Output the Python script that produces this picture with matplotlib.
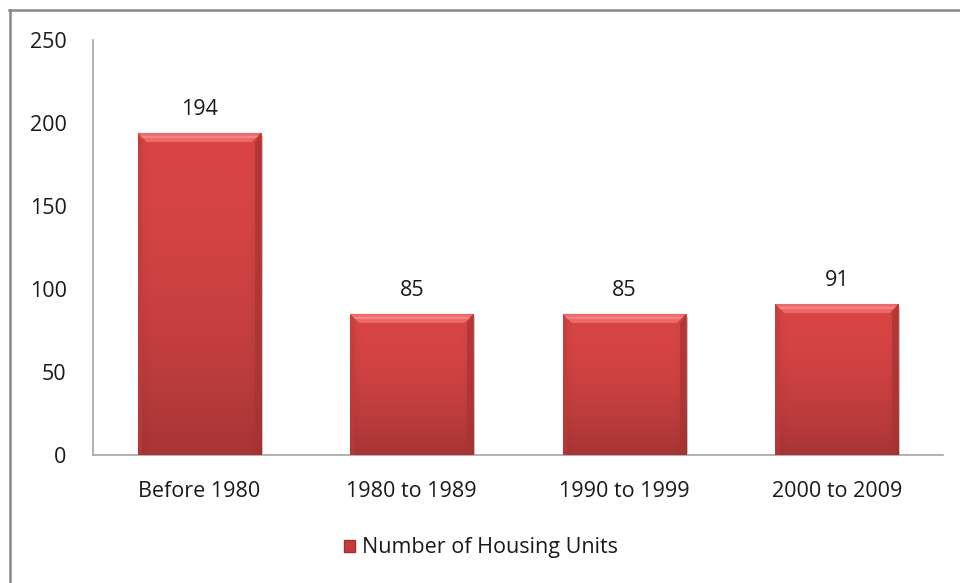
import numpy as np
import matplotlib
matplotlib.use("Agg")
import matplotlib.pyplot as plt
from matplotlib.patches import Polygon, Patch
from matplotlib.lines import Line2D
from matplotlib.colors import to_rgb

categories = ['Before 1980', '1980 to 1989', '1990 to 1999', '2000 to 2009']
units = [194, 85, 85, 91]
series_name = 'Number of Housing Units'

plt.rcParams['font.family'] = ['Open Sans', 'DejaVu Sans']

fig = plt.figure(figsize=(9.6, 5.83), dpi=100)
ax = fig.add_axes([93 / 960, 1 - 455 / 583, 850 / 960, 415 / 583])

x = np.arange(len(categories))
bars = ax.bar(x, units, width=0.58, color='#D54343', zorder=2)
ax.set_xlim(-0.5, len(categories) - 0.5)
ax.set_ylim(0, 250)
ax.set_yticks(range(0, 251, 50))
ax.set_xticks(x)
ax.set_xticklabels(categories)
ax.tick_params(axis='both', length=0, labelsize=15.5, colors='#1a1a1a')
ax.tick_params(axis='y', pad=19)
ax.tick_params(axis='x', pad=19)
for s in ['top', 'right']:
    ax.spines[s].set_visible(False)
for s in ['left', 'bottom']:
    ax.spines[s].set_color('#a6a6a6')
    ax.spines[s].set_linewidth(1.2)

# bevel size in data units (about 9 px)
px_x = 1 / (850 / 4)
px_y = 250 / 415
bx = 9 * px_x
by = 9 * px_y

top_c = np.array(to_rgb('#D94545'))
bot_c = np.array(to_rgb('#A83535'))
for b, v in zip(bars, units):
    x0 = b.get_x()
    w = b.get_width()
    x1 = x0 + w
    ny, nx = 120, 60
    t = np.linspace(0, 1, ny)[:, None, None] ** 1.8
    grad = top_c * (1 - t) + bot_c * t
    sx = np.linspace(-1, 1, nx)
    side = 1 - 0.05 * np.clip(np.abs(sx) - 0.8, 0, None) / 0.2
    img = np.repeat(grad, nx, axis=1) * side[None, :, None]
    im = ax.imshow(np.clip(img, 0, 1), extent=(x0, x1, 0, v), aspect='auto',
                   zorder=3, interpolation='bilinear')
    im.set_clip_path(b)
    # top bevel (lighter)
    ax.add_patch(Polygon([(x0, v), (x1, v), (x1 - bx, v - by), (x0 + bx, v - by)],
                         closed=True, color='#EC6A6A', lw=0, zorder=4))
    ax.add_patch(Polygon([(x0 + bx * 0.3, v - by * 0.3), (x1 - bx * 0.3, v - by * 0.3),
                          (x1 - bx * 0.55, v - by * 0.55), (x0 + bx * 0.55, v - by * 0.55)],
                         closed=True, color='#F58585', lw=0, zorder=4))
    # right bevel (darker)
    ax.add_patch(Polygon([(x1, v), (x1, 0), (x1 - bx * 0.7, 0), (x1 - bx * 0.7, v - by)],
                         closed=True, color='#A83333', lw=0, zorder=4, alpha=0.7))
    # left bevel
    ax.add_patch(Polygon([(x0, v), (x0, 0), (x0 + bx * 0.5, 0), (x0 + bx * 0.5, v - by)],
                         closed=True, color='#C23C3C', lw=0, zorder=4, alpha=0.5))
    # soft shadow on right
    ax.add_patch(Polygon([(x1, v - by * 0.3), (x1 + 2 * px_x, v - by * 0.3),
                          (x1 + 2 * px_x, 0), (x1, 0)],
                         closed=True, color='#c4c4c4', lw=0, zorder=1))
    ax.annotate(str(v), (b.get_x() + w / 2, v), xytext=(0, 9), textcoords='offset points',
                ha='center', va='bottom', fontsize=15.5, color='#1a1a1a')

ax.set_xlim(-0.5, len(categories) - 0.5)
ax.set_ylim(0, 250)

fig.legend(handles=[Patch(facecolor='#C23B3B', edgecolor='#a03030', label=series_name)],
           loc='center', bbox_to_anchor=(481 / 960, 1 - 548 / 583), frameon=False,
           fontsize=15.5, handlelength=0.5, handleheight=0.5, handletextpad=0.3,
           labelcolor='#1a1a1a')

# outer chart border (top and left visible)
fig.add_artist(Line2D([9 / 960, 1], [1 - 9.5 / 583, 1 - 9.5 / 583], color='#888888', lw=1.8,
                      transform=fig.transFigure))
fig.add_artist(Line2D([10 / 960, 10 / 960], [0, 1 - 9.5 / 583], color='#888888', lw=1.8,
                      transform=fig.transFigure))

fig.savefig('out.png', dpi=100)
